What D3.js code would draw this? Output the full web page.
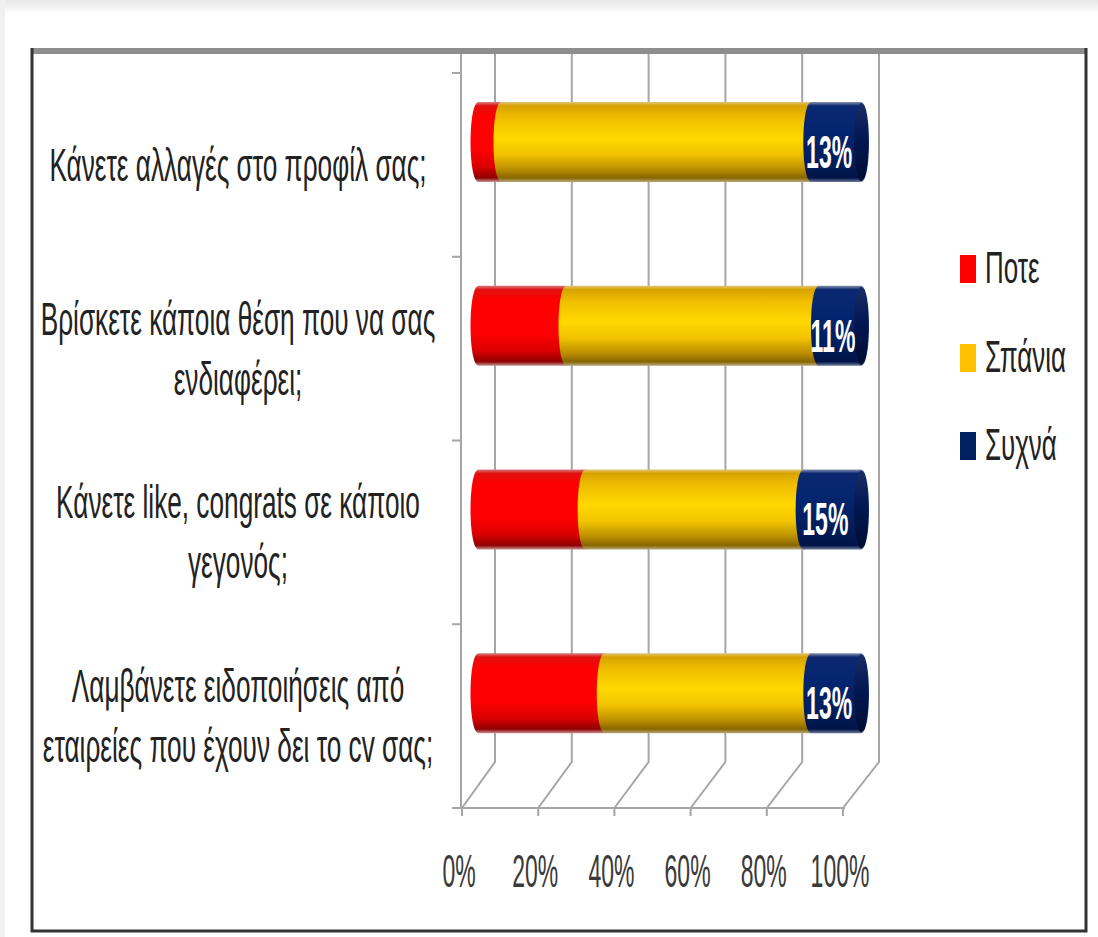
<!DOCTYPE html>
<html>
<head>
<meta charset="utf-8">
<script src="https://cdn.jsdelivr.net/npm/d3@7"></script>
<style>
  html, body { margin: 0; padding: 0; background: #fff; }
  svg { display: block; }
</style>
</head>
<body>
<svg id="chart" width="1098" height="937"></svg>
<script>
// Survey questions, listed top to bottom ("\n" marks a line break)
const categories = [
  "Κάνετε αλλαγές στο προφίλ σας;",
  "Βρίσκετε κάποια θέση που να σας\nενδιαφέρει;",
  "Κάνετε like, congrats σε κάποιο\nγεγονός;",
  "Λαμβάνετε ειδοποιήσεις από\nεταιρείες που έχουν δει το cv σας;"
];
const seriesNames = ["Ποτε", "Σπάνια", "Συχνά"];
const pote   = [6, 23, 28, 33];
const spania = [81, 66, 57, 54];
const sychna = [13, 11, 15, 13];
const tickValues = [0, 20, 40, 60, 80, 100];
const tickLabels = ["0%", "20%", "40%", "60%", "80%", "100%"];

const seriesValues = [pote, spania, sychna];
const colors = ["#ff0000", "#ffc000", "#002060"];

const svg = d3.select("#chart");
const FONT = "'Liberation Sans', Arial, sans-serif";

// --- 3D box geometry: front plane and back plane of the plot
const xFront = d3.scaleLinear().domain([0, 100]).range([462, 843]);
const xBack  = d3.scaleLinear().domain([0, 100]).range([495, 879]);
const xMid   = d3.scaleLinear().domain([0, 100]).range([478.5, 861]);
const yFront = d3.scaleBand().domain(categories).range([73, 808]);
const depthY = -46;          // back plane shift
const floorFront = 808, floorBack = floorFront + depthY;
const plotTop = 52;

// --- defs: cylinder gradients
const defs = svg.append("defs");
const gradStops = [
  [[0, "#d88080"], [0.05, "#e01010"], [0.18, "#ff0000"], [0.6, "#ff0000"], [0.82, "#d80000"], [0.95, "#8e0000"], [1, "#c89090"]],
  [[0, "#e2c67a"], [0.05, "#d8a200"], [0.2, "#f0be00"], [0.45, "#ffd800"], [0.65, "#f2c400"], [0.85, "#b98c00"], [0.95, "#876600"], [1, "#b8a67a"]],
  [[0, "#8a96b4"], [0.05, "#0a2870"], [0.35, "#04256f"], [0.75, "#001d5c"], [0.95, "#001448"], [1, "#6c7898"]]
];
gradStops.forEach((stops, i) => {
  const g = defs.append("linearGradient")
    .attr("id", "cyl" + i).attr("x1", 0).attr("y1", 0).attr("x2", 0).attr("y2", 1);
  stops.forEach(([o, c]) => g.append("stop").attr("offset", o).attr("stop-color", c));
});
const capGrad = defs.append("linearGradient").attr("id", "cap")
  .attr("x1", 0).attr("y1", 0).attr("x2", 0).attr("y2", 1);
[[0, "#1a2d66"], [0.5, "#001650"], [1, "#000d33"]].forEach(([o, c]) =>
  capGrad.append("stop").attr("offset", o).attr("stop-color", c));

// --- page haze and chart frame
const haze = defs.append("linearGradient").attr("id", "haze")
  .attr("x1", 0).attr("y1", 0).attr("x2", 0).attr("y2", 1);
haze.append("stop").attr("offset", 0).attr("stop-color", "#e6e6e6");
haze.append("stop").attr("offset", 1).attr("stop-color", "#ffffff");
svg.append("rect").attr("x", 0).attr("y", 0).attr("width", 1098).attr("height", 14).attr("fill", "url(#haze)");
svg.append("rect").attr("x", 0).attr("y", 0).attr("width", 5).attr("height", 937).attr("fill", "#f0f0f0");

// --- gridlines: back wall verticals, floor diagonals
const grid = svg.append("g").attr("stroke", "#a6a6a6").attr("stroke-width", 2).attr("fill", "none");
tickValues.forEach(v => {
  grid.append("path").attr("d", d3.line()([
    [xBack(v), plotTop], [xBack(v), floorBack], [xFront(v), floorFront]
  ]));
});
// front-left wall edge
grid.append("line").attr("x1", xFront(0) - 1).attr("x2", xFront(0) - 1)
  .attr("y1", plotTop).attr("y2", floorFront);
// category tick marks on the left wall
const catTicks = categories.map(c => yFront(c)).concat([yFront.range()[1]]);
grid.selectAll(".ctick").data(catTicks).join("line")
  .attr("x1", xFront(0) - 10).attr("x2", xFront(0) - 1)
  .attr("y1", d => d).attr("y2", d => d);
// value axis along the front floor edge
grid.append("line").attr("x1", xFront(0) - 10).attr("x2", xFront(100) + 2)
  .attr("y1", floorFront).attr("y2", floorFront);
grid.selectAll(".vtick").data(tickValues).join("line")
  .attr("x1", d => xFront(d)).attr("x2", d => xFront(d))
  .attr("y1", floorFront).attr("y2", floorFront + 8);

// --- text helper: narrow face via horizontal scale
function narrowText(parent, x, y, str, size, sx, opts = {}) {
  return parent.append("g").attr("transform", `translate(${x},${y}) scale(${sx},1)`)
    .append("text")
    .attr("text-anchor", opts.anchor || "middle")
    .attr("font-family", FONT)
    .attr("font-size", size)
    .attr("font-weight", opts.weight || "normal")
    .attr("fill", opts.fill || "#222")
    .text(str);
}

// value tick labels
tickValues.forEach((v, i) => narrowText(svg, xFront(v) - 3, 887, tickLabels[i], 46, 0.5, { fill: "#3a3a3a" }));

// category labels, centred on each front band
categories.forEach(c => {
  const lines = c.split("\n");
  const cy = yFront(c) + yFront.bandwidth() / 2;
  const lh = 60;
  lines.forEach((ln, j) => {
    const base = cy + 16 + (j - (lines.length - 1) / 2) * lh;
    narrowText(svg, 238, base, ln, 46, 0.57);
  });
});

// --- stacked cylinders, drawn on the mid-depth plane
const R = 40, RX = 8;
const midShift = depthY / 2;
const bars = svg.append("g");
categories.forEach((c, ci) => {
  const cy = yFront(c) + yFront.bandwidth() / 2 + midShift;
  let acc = 0;
  seriesValues.forEach((vals, si) => {
    const a = xMid(acc), b = xMid(acc + vals[ci]);
    acc += vals[ci];
    const p = d3.path();
    p.moveTo(a, cy - R);
    p.lineTo(b, cy - R);
    p.bezierCurveTo(b + RX * 1.33, cy - R, b + RX * 1.33, cy + R, b, cy + R);
    p.lineTo(a, cy + R);
    p.bezierCurveTo(a - RX * 1.33, cy + R, a - RX * 1.33, cy - R, a, cy - R);
    p.closePath();
    bars.append("path").attr("d", p.toString()).attr("fill", `url(#cyl${si})`);
  });
  // end face of the cylinder
  bars.append("ellipse").attr("cx", xMid(acc)).attr("cy", cy)
    .attr("rx", RX - 1).attr("ry", R - 1).attr("fill", "url(#cap)");
  // value label for the last series
  const v = sychna[ci];
  const segMid = xMid(acc - v / 2);
  narrowText(bars, segMid - 7, cy + 26, v + "%", 46, 0.5, { fill: "#ffffff", weight: "bold" });
});

// --- legend
const legend = svg.append("g");
const legendY = [269, 358, 446];
seriesNames.forEach((n, i) => {
  legend.append("rect").attr("x", 960).attr("y", legendY[i] - 14)
    .attr("width", 16).attr("height", 28).attr("fill", colors[i]);
  narrowText(legend, 985, legendY[i] + 14, n, 44, 0.59, { anchor: "start" });
});

// --- chart frame
svg.append("line").attr("x1", 32).attr("x2", 1086).attr("y1", 51).attr("y2", 51)
  .attr("stroke", "#8e8e8e").attr("stroke-width", 6);
svg.append("path").attr("d", d3.line()([[32, 48], [32, 931], [1086, 931], [1086, 48]]))
  .attr("fill", "none").attr("stroke", "#333").attr("stroke-width", 3);
</script>
</body>
</html>
